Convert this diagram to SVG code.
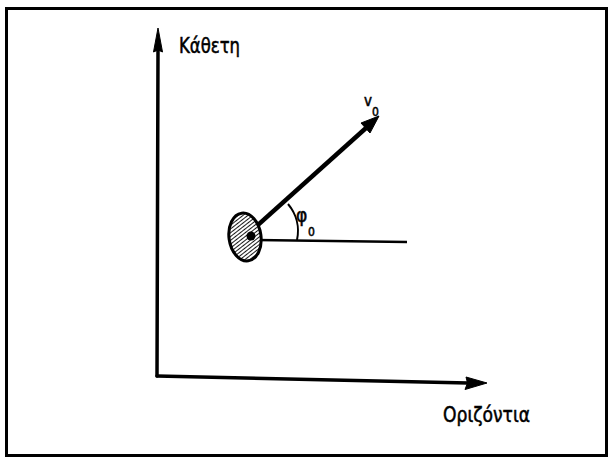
<svg xmlns="http://www.w3.org/2000/svg" width="611" height="464" viewBox="0 0 611 464">
<defs>
<style>
.lbl{font-family:"DejaVu Sans Condensed","Liberation Sans Narrow","DejaVu Sans",sans-serif;fill:#000;stroke:#000;stroke-width:0.5}
.ax{stroke:#000;stroke-width:3.5;fill:none;stroke-linecap:round}
.head{fill:#000;stroke:#000;stroke-width:1;stroke-linejoin:round}
</style>
<pattern id="hatch" width="3" height="3" patternUnits="userSpaceOnUse" patternTransform="rotate(60)">
<rect width="3" height="3" fill="#fff"/>
<line x1="0" y1="0" x2="0" y2="3" stroke="#000" stroke-width="1.8"/>
</pattern>
</defs>
<rect width="611" height="464" fill="#fff"/>
<g id="frame">
<rect x="6.5" y="8.5" width="600" height="447" fill="none" stroke="#000" stroke-width="3"/>
</g>
<g id="connectors">
<path class="ax" d="M157,376 L158,50"/>
<path class="head" d="M158,28 L162.5,52 L158,50 L153.5,52 Z"/>
<path class="ax" d="M157,376 L468,383"/>
<path class="head" d="M487,383 L465,389.5 L467.5,383 L466,377 Z"/>
<line x1="256" y1="240" x2="407" y2="242" stroke="#000" stroke-width="2.5"/>
<path d="M250,232 L366,128" stroke="#000" stroke-width="4.5" fill="none"/>
<path class="head" d="M379,116 L370,133 L361,123 Z"/>
<path d="M288,204 A42,42 0 0 1 297,240" stroke="#000" stroke-width="2" fill="none"/>
</g>
<g id="ball">
<ellipse cx="245" cy="237" rx="16" ry="24" transform="rotate(-8 245 237)" fill="url(#hatch)" stroke="#000" stroke-width="3"/>
<circle cx="251" cy="236" r="4.5" fill="#000"/>
</g>
<g id="labels">
<text class="lbl" x="179" y="53" font-size="21" textLength="61" lengthAdjust="spacingAndGlyphs">Κάθετη</text>
<text class="lbl" x="443" y="422" font-size="21" textLength="87" lengthAdjust="spacingAndGlyphs">Οριζόντια</text>
<text class="lbl" x="364" y="106" font-size="15">v</text>
<text class="lbl" x="372" y="116" font-size="12">0</text>
<text class="lbl" x="296" y="222" font-size="19">φ</text>
<text class="lbl" x="308" y="236" font-size="12">0</text>
</g>
</svg>
